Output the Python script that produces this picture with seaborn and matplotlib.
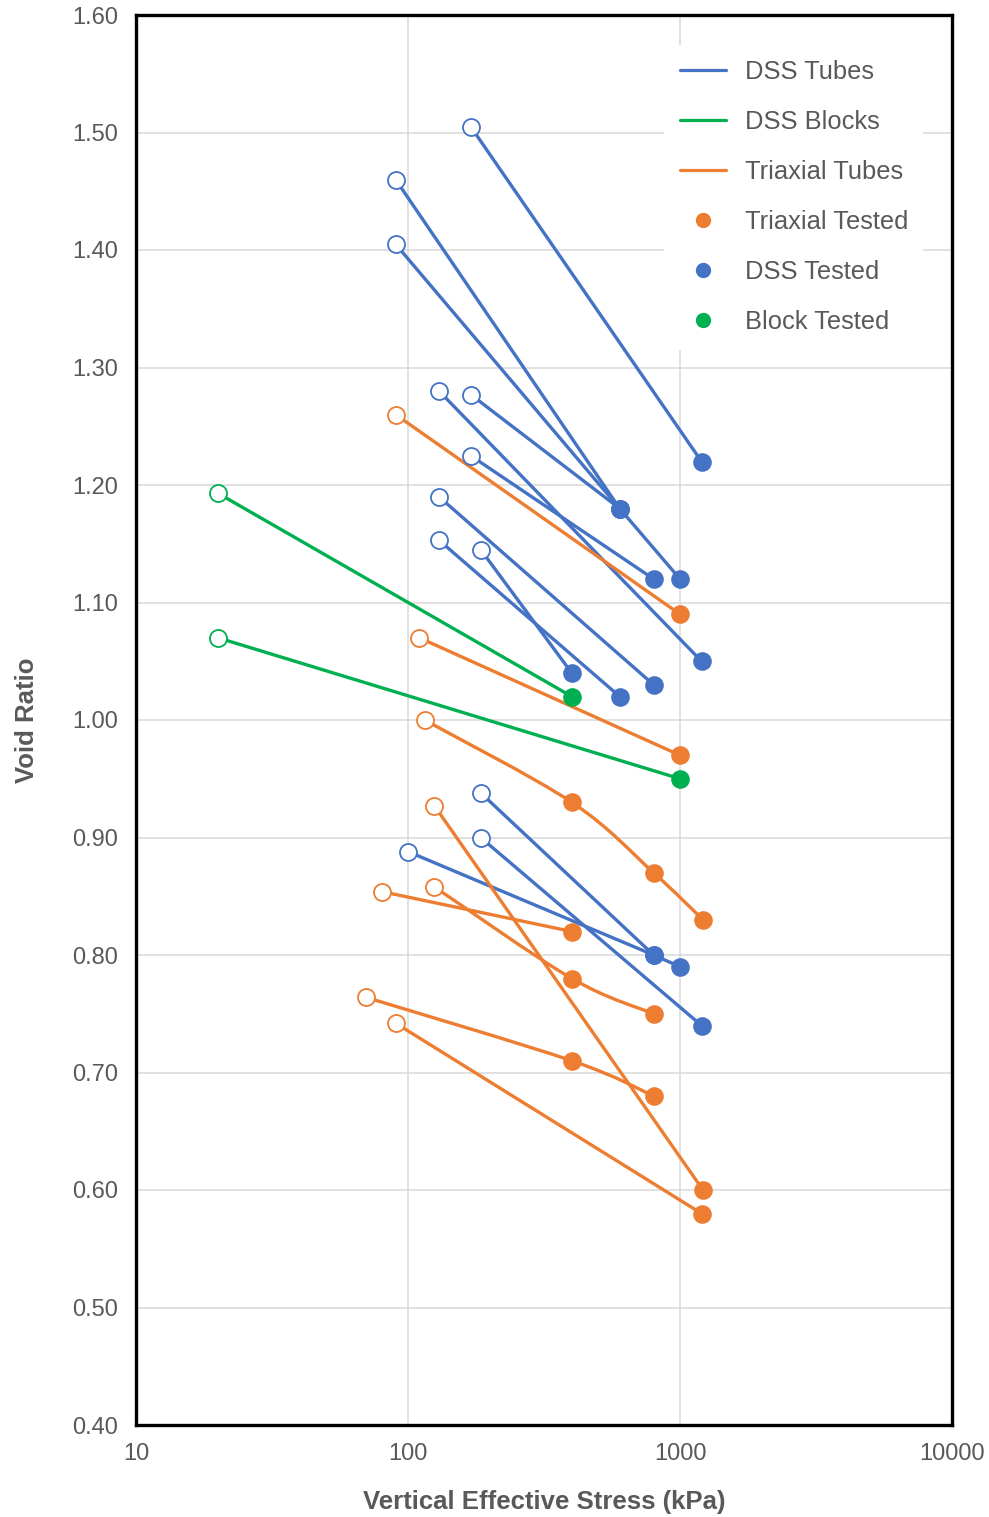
import numpy as np
import pandas as pd
import matplotlib
matplotlib.use("Agg")
import matplotlib.pyplot as plt
import seaborn as sns
from matplotlib.lines import Line2D
from matplotlib.path import Path
from matplotlib.patches import PathPatch

# ---------------- data ----------------
dss_tube_stress = [[170, 1200], [90, 600], [90, 600, 1000], [130, 1200], [170, 600],
                   [170, 800], [130, 800], [130, 600], [185, 400], [185, 800],
                   [185, 1200], [100, 800, 1000]]
dss_tube_void = [[1.505, 1.22], [1.46, 1.18], [1.405, 1.18, 1.12], [1.28, 1.05], [1.277, 1.18],
                 [1.225, 1.12], [1.19, 1.03], [1.153, 1.02], [1.145, 1.04], [0.938, 0.80],
                 [0.90, 0.74], [0.888, 0.80, 0.79]]

dss_block_stress = [[20, 400], [20, 1000]]
dss_block_void = [[1.193, 1.02], [1.07, 0.95]]

tri_stress = [[90, 1000], [110, 1000], [115, 400, 800, 1215], [125, 1215], [80, 400],
              [125, 400, 800], [70, 400, 800], [90, 1200]]
tri_void = [[1.26, 1.09], [1.07, 0.97], [1.00, 0.93, 0.87, 0.83], [0.927, 0.60], [0.854, 0.82],
            [0.858, 0.78, 0.75], [0.764, 0.71, 0.68], [0.742, 0.58]]

x_ticks = [10, 100, 1000, 10000]
y_ticks = [0.40, 0.50, 0.60, 0.70, 0.80, 0.90, 1.00, 1.10, 1.20, 1.30, 1.40, 1.50, 1.60]
legend_labels = ["DSS Tubes", "DSS Blocks", "Triaxial Tubes", "Triaxial Tested", "DSS Tested", "Block Tested"]

BLUE, GREEN, ORANGE = "#4472C4", "#00B050", "#ED7D31"
GREY = "#595959"

groups = [
    ("DSS Tubes", dss_tube_stress, dss_tube_void, BLUE, False),
    ("DSS Blocks", dss_block_stress, dss_block_void, GREEN, False),
    ("Triaxial Tubes", tri_stress, tri_void, ORANGE, True),
]

rows = []
for gname, S, V, col, smooth in groups:
    for k, (xs, ys) in enumerate(zip(S, V)):
        for j, (x, y) in enumerate(zip(xs, ys)):
            rows.append(dict(group=gname, series=f"{gname}-{k}", stress=x, void=y,
                             kind="start" if j == 0 else "tested", npts=len(xs)))
df = pd.DataFrame(rows)

# ---------------- figure ----------------
sns.set_theme(style="white")
plt.rcParams["font.family"] = ["Liberation Sans", "DejaVu Sans"]

fig = plt.figure(figsize=(9.89, 15.17), dpi=100)
ax = fig.add_axes([136 / 989, 1 - 1425 / 1517, (952 - 136) / 989, (1425 - 15) / 1517])
ax.set_xscale("log")
ax.set_xlim(10, 10000)
ax.set_ylim(0.40, 1.60)

LW = 2.4


def smooth_path(xs, ys):
    lx = np.log10(np.asarray(xs, float))
    yy = np.asarray(ys, float)
    P = np.column_stack([lx, yy])
    n = len(P)
    verts = [P[0]]
    codes = [Path.MOVETO]
    for i in range(n - 1):
        p0 = P[i - 1] if i > 0 else P[i]
        p1 = P[i]
        p2 = P[i + 1]
        p3 = P[i + 2] if i + 2 < n else P[i + 1]
        c1 = p1 + (p2 - p0) / 6.0
        c2 = p2 - (p3 - p1) / 6.0
        verts += [c1, c2, p2]
        codes += [Path.CURVE4] * 3
    verts = np.array(verts)
    verts[:, 0] = 10 ** verts[:, 0]
    return Path(verts, codes)


for gname, S, V, col, smooth in groups:
    sub = df[df.group == gname]
    straight = sub if not smooth else sub[sub.npts == 2]
    sns.lineplot(data=straight, x="stress", y="void", units="series", estimator=None,
                 sort=False, color=col, lw=LW, ax=ax, legend=False, zorder=3)
    if smooth:
        for sid, s in sub[sub.npts > 2].groupby("series", sort=False):
            ax.add_patch(PathPatch(smooth_path(s.stress.values, s.void.values), fill=False,
                                   edgecolor=col, lw=LW, zorder=3, capstyle="round"))

for gname, S, V, col, smooth in groups:
    sub = df[df.group == gname]
    st = sub[sub.kind == "start"]
    te = sub[sub.kind == "tested"]
    sns.scatterplot(data=st, x="stress", y="void", color="white", edgecolor=col,
                    linewidth=1.3, s=150, marker="o", ax=ax, legend=False, zorder=5)
    sns.scatterplot(data=te, x="stress", y="void", color=col, edgecolor=col,
                    linewidth=0, s=180, marker="o", ax=ax, legend=False, zorder=5)

# ---------------- axes styling ----------------
ax.set_xticks(x_ticks)
ax.set_xticklabels([str(t) for t in x_ticks])
ax.xaxis.set_minor_locator(matplotlib.ticker.NullLocator())
ax.set_yticks(y_ticks)
ax.set_yticklabels([f"{t:.2f}" for t in y_ticks])
ax.tick_params(axis="both", length=0, labelsize=17, labelcolor=GREY)
ax.tick_params(axis="x", pad=13)
ax.tick_params(axis="y", pad=13)
ax.grid(True, which="major", color="#D9D9D9", lw=1.1, zorder=0)
ax.set_axisbelow(True)
for sp in ax.spines.values():
    sp.set_visible(True)
    sp.set_color("black")
    sp.set_linewidth(2.4)
    sp.set_zorder(6)

ax.set_xlabel("Vertical Effective Stress (kPa)", fontsize=18.5, fontweight="bold", color=GREY, labelpad=18)
ax.set_ylabel("Void Ratio", fontsize=18.5, fontweight="bold", color=GREY, labelpad=24)

handles = [
    Line2D([], [], color=BLUE, lw=2.3),
    Line2D([], [], color=GREEN, lw=2.3),
    Line2D([], [], color=ORANGE, lw=2.3),
    Line2D([], [], color=ORANGE, lw=0, marker="o", markersize=10),
    Line2D([], [], color=BLUE, lw=0, marker="o", markersize=10),
    Line2D([], [], color=GREEN, lw=0, marker="o", markersize=10),
]
leg = ax.legend(handles, legend_labels, loc="upper left", bbox_to_anchor=(0.6474, 0.979),
                borderaxespad=0, frameon=True, fancybox=False, fontsize=18.4, labelcolor=GREY,
                handlelength=1.8, handletextpad=0.75, labelspacing=1.02, borderpad=0.6)
leg.get_frame().set_facecolor("white")
leg.get_frame().set_edgecolor("none")
leg.get_frame().set_alpha(1)
leg.set_zorder(7)

fig.savefig("out.png", dpi=100)
